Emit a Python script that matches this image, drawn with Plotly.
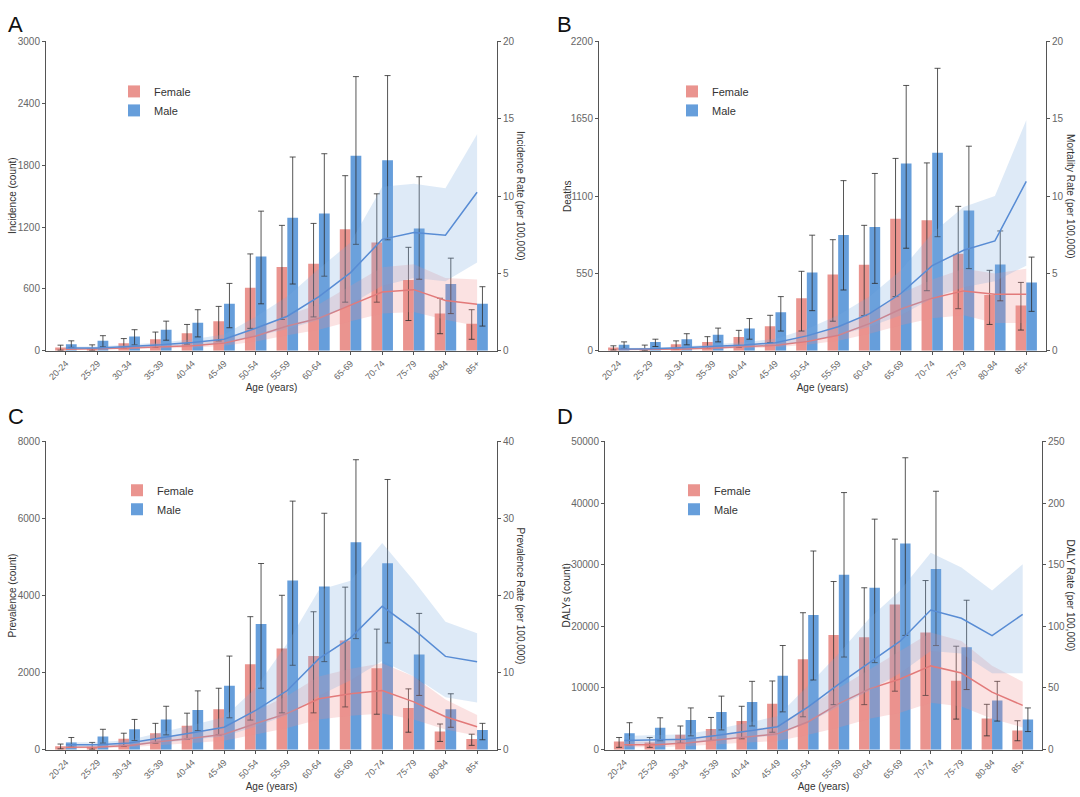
import plotly.graph_objects as go
from plotly.subplots import make_subplots

# ---------------- data ----------------
age_groups = ["20-24", "25-29", "30-34", "35-39", "40-44", "45-49", "50-54",
              "55-59", "60-64", "65-69", "70-74", "75-79", "80-84", "85+"]

# Panel A: incidence
inc_f = [32, 22, 73, 111, 169, 287, 611, 812, 844, 1178, 1051, 685, 360, 261]
inc_f_lo = [5, 5, 25, 32, 64, 95, 217, 303, 328, 471, 471, 293, 165, 111]
inc_f_hi = [54, 57, 118, 181, 255, 430, 939, 1216, 1235, 1698, 1522, 1003, 509, 398]
inc_m = [64, 96, 137, 204, 271, 455, 914, 1290, 1331, 1892, 1847, 1185, 647, 455]
inc_m_lo = [32, 38, 57, 102, 134, 223, 455, 647, 723, 1032, 1076, 694, 360, 239]
inc_m_hi = [96, 146, 204, 287, 398, 653, 1354, 1879, 1911, 2659, 2669, 1688, 898, 621]
inc_rate_f = [0.10, 0.12, 0.18, 0.25, 0.33, 0.50, 0.95, 1.60, 2.10, 2.95, 3.80, 3.95, 3.25, 3.00]
inc_rate_f_lo = [0.05, 0.06, 0.10, 0.15, 0.20, 0.32, 0.60, 1.00, 1.35, 1.90, 2.40, 2.50, 2.00, 1.60]
inc_rate_f_hi = [0.16, 0.19, 0.27, 0.36, 0.48, 0.72, 1.40, 2.30, 3.00, 4.20, 5.40, 5.60, 4.70, 4.60]
inc_rate_m = [0.17, 0.18, 0.28, 0.38, 0.53, 0.74, 1.45, 2.23, 3.50, 5.05, 7.20, 7.64, 7.47, 10.25]
inc_rate_m_lo = [0.10, 0.11, 0.18, 0.25, 0.36, 0.50, 0.95, 1.40, 2.00, 3.00, 4.20, 4.70, 4.50, 5.70]
inc_rate_m_hi = [0.26, 0.28, 0.40, 0.54, 0.75, 1.05, 2.20, 3.50, 5.30, 7.00, 10.60, 10.80, 10.50, 14.00]

# Panel B: deaths
dth_f = [23, 16, 47, 63, 98, 175, 373, 542, 612, 939, 928, 689, 397, 322]
dth_f_lo = [5, 3, 12, 16, 23, 58, 140, 210, 250, 385, 427, 299, 187, 147]
dth_f_hi = [35, 40, 70, 100, 145, 252, 565, 790, 892, 1368, 1336, 1027, 572, 486]
dth_m = [42, 63, 82, 114, 159, 273, 556, 824, 880, 1331, 1408, 997, 614, 486]
dth_m_lo = [16, 30, 42, 63, 82, 140, 285, 432, 479, 729, 811, 584, 355, 280]
dth_m_hi = [63, 82, 121, 161, 229, 385, 822, 1210, 1261, 1887, 2009, 1455, 852, 666]
mort_rate_f = [0.08, 0.09, 0.12, 0.17, 0.25, 0.35, 0.60, 1.00, 1.75, 2.70, 3.40, 3.87, 3.65, 3.65]
mort_rate_f_lo = [0.04, 0.05, 0.07, 0.10, 0.15, 0.22, 0.38, 0.65, 1.10, 1.65, 2.10, 2.30, 1.80, 1.80]
mort_rate_f_hi = [0.13, 0.14, 0.19, 0.26, 0.37, 0.52, 0.90, 1.50, 2.40, 3.70, 4.60, 5.30, 5.00, 5.30]
mort_rate_m = [0.12, 0.13, 0.19, 0.27, 0.37, 0.52, 0.96, 1.55, 2.40, 3.70, 5.50, 6.50, 7.10, 10.95]
mort_rate_m_lo = [0.07, 0.08, 0.12, 0.17, 0.24, 0.34, 0.62, 1.00, 1.55, 2.30, 3.40, 4.10, 4.50, 5.50]
mort_rate_m_hi = [0.18, 0.20, 0.28, 0.40, 0.55, 0.78, 1.40, 2.30, 3.50, 5.20, 7.60, 9.30, 10.00, 14.90]

# Panel C: prevalence
prev_f = [85, 77, 281, 426, 622, 1048, 2215, 2624, 2428, 2829, 2113, 1082, 469, 273]
prev_f_lo = [20, 10, 85, 170, 273, 383, 767, 954, 954, 1108, 920, 452, 213, 111]
prev_f_hi = [145, 187, 426, 682, 946, 1593, 3450, 4005, 3578, 4217, 3127, 1577, 665, 401]
prev_m = [187, 341, 528, 784, 1031, 1661, 3263, 4387, 4234, 5384, 4839, 2471, 1048, 511]
prev_m_lo = [68, 170, 238, 383, 494, 826, 1593, 2189, 2283, 2880, 2769, 1406, 580, 256]
prev_m_hi = [315, 528, 784, 1125, 1525, 2428, 4830, 6449, 6134, 7523, 7010, 3535, 1449, 682]
prev_rate_f = [0.30, 0.35, 0.55, 1.07, 1.49, 2.00, 3.40, 4.70, 6.60, 7.25, 7.67, 6.20, 4.26, 2.98]
prev_rate_f_lo = [0.15, 0.18, 0.30, 0.60, 0.85, 1.15, 2.00, 2.80, 3.90, 4.40, 4.70, 3.90, 2.60, 1.80]
prev_rate_f_hi = [0.50, 0.55, 0.85, 1.60, 2.20, 3.00, 5.00, 7.00, 9.50, 10.50, 11.20, 9.50, 6.50, 4.50]
prev_rate_m = [0.64, 0.64, 0.85, 1.49, 2.20, 2.90, 5.10, 7.67, 11.80, 14.50, 18.60, 15.60, 12.10, 11.40]
prev_rate_m_lo = [0.35, 0.36, 0.50, 0.85, 1.30, 1.70, 3.00, 4.50, 7.00, 9.00, 11.50, 9.50, 6.80, 6.10]
prev_rate_m_hi = [0.95, 0.95, 1.25, 2.20, 3.20, 4.20, 8.00, 13.80, 20.70, 21.90, 26.80, 21.90, 16.60, 15.10]

# Panel D: DALYs
daly_f = [1331, 1172, 2396, 3355, 4633, 7455, 14643, 18584, 18211, 23535, 19010, 11182, 5058, 3089]
daly_f_lo = [373, 373, 1065, 1491, 1757, 2822, 5325, 7295, 7295, 9478, 8786, 4952, 2236, 1438]
daly_f_hi = [1970, 1970, 3834, 5218, 7029, 11134, 22204, 27264, 26251, 34137, 27423, 16773, 7348, 4686]
daly_m = [2662, 3568, 4792, 6123, 7721, 11981, 21832, 28382, 26251, 33440, 29286, 16613, 7987, 4899]
daly_m_lo = [796, 1438, 2236, 3195, 3834, 6123, 11289, 15016, 14110, 18530, 16880, 9744, 4633, 2928]
daly_m_hi = [4366, 5165, 6763, 8679, 11075, 16885, 32215, 41693, 37380, 47337, 41906, 24228, 11075, 6763]
daly_rate_f = [4.0, 4.0, 5.3, 7.7, 10.6, 12.8, 22.6, 37.3, 49.3, 57.3, 67.9, 62.1, 46.6, 35.9]
daly_rate_f_lo = [2.0, 2.0, 2.8, 4.2, 5.8, 7.0, 12.0, 18.0, 25.0, 30.0, 38.0, 35.0, 25.0, 18.0]
daly_rate_f_hi = [6.5, 6.5, 8.5, 12.0, 16.0, 19.5, 35.0, 50.0, 65.0, 80.0, 95.0, 88.0, 68.0, 55.0]
daly_rate_m = [7.4, 8.0, 8.5, 11.4, 15.2, 18.6, 34.6, 53.2, 70.5, 87.9, 113.2, 106.5, 92.4, 109.7]
daly_rate_m_lo = [4.5, 4.8, 5.2, 7.0, 9.5, 11.5, 22.0, 35.0, 48.0, 62.0, 80.0, 78.0, 62.0, 62.0]
daly_rate_m_hi = [11.0, 11.5, 12.5, 16.5, 22.0, 27.0, 52.0, 78.0, 106.5, 129.0, 159.7, 147.8, 129.0, 150.4]

# ---------------- styling ----------------
W, H = 1080, 797
FONT = "Liberation Sans, Arial, sans-serif"
F_BAR = "rgb(234,148,143)"
M_BAR = "rgb(102,158,219)"
F_LINE = "rgb(226,122,122)"
M_LINE = "rgb(88,140,212)"
F_BAND = "rgba(240,140,140,0.25)"
M_BAND = "rgba(125,172,225,0.25)"
ERR = "rgba(45,45,45,0.8)"
AX = "#555555"
TICK_TXT = "#666666"
TITLE_TXT = "#333333"


def px(x):
    return x / W


def py(y):
    return 1 - y / H


fig = make_subplots(rows=2, cols=2,
                    specs=[[{"secondary_y": True}, {"secondary_y": True}],
                           [{"secondary_y": True}, {"secondary_y": True}]])

panels = [
    dict(row=1, col=1, legend="legend",
         f=inc_f, f_lo=inc_f_lo, f_hi=inc_f_hi, m=inc_m, m_lo=inc_m_lo, m_hi=inc_m_hi,
         rf=inc_rate_f, rf_lo=inc_rate_f_lo, rf_hi=inc_rate_f_hi,
         rm=inc_rate_m, rm_lo=inc_rate_m_lo, rm_hi=inc_rate_m_hi,
         y1=[0, 3000], d1=600, y2=[0, 20], d2=5,
         xdom=(46, 497), ydom=(36, 350),
         letter="A", letter_xy=(6, 4),
         ltitle="Incidence (count)", ltitle_x=12,
         rtitle="Incidence Rate (per 100,000)", rtitle_x=521,
         leg_xy=(114, 72)),
    dict(row=1, col=2, legend="legend2",
         f=dth_f, f_lo=dth_f_lo, f_hi=dth_f_hi, m=dth_m, m_lo=dth_m_lo, m_hi=dth_m_hi,
         rf=mort_rate_f, rf_lo=mort_rate_f_lo, rf_hi=mort_rate_f_hi,
         rm=mort_rate_m, rm_lo=mort_rate_m_lo, rm_hi=mort_rate_m_hi,
         y1=[0, 2200], d1=550, y2=[0, 20], d2=5,
         xdom=(599, 1046), ydom=(36, 350),
         letter="B", letter_xy=(555, 4),
         ltitle="Deaths", ltitle_x=567,
         rtitle="Mortality Rate (per 100,000)", rtitle_x=1071,
         leg_xy=(672, 72)),
    dict(row=2, col=1, legend="legend3",
         f=prev_f, f_lo=prev_f_lo, f_hi=prev_f_hi, m=prev_m, m_lo=prev_m_lo, m_hi=prev_m_hi,
         rf=prev_rate_f, rf_lo=prev_rate_f_lo, rf_hi=prev_rate_f_hi,
         rm=prev_rate_m, rm_lo=prev_rate_m_lo, rm_hi=prev_rate_m_hi,
         y1=[0, 8000], d1=2000, y2=[0, 40], d2=10,
         xdom=(46, 497), ydom=(442, 755),
         letter="C", letter_xy=(6, 402),
         ltitle="Prevalence (count)", ltitle_x=12,
         rtitle="Prevalence Rate (per 100,000)", rtitle_x=521,
         leg_xy=(117, 477)),
    dict(row=2, col=2, legend="legend4",
         f=daly_f, f_lo=daly_f_lo, f_hi=daly_f_hi, m=daly_m, m_lo=daly_m_lo, m_hi=daly_m_hi,
         rf=daly_rate_f, rf_lo=daly_rate_f_lo, rf_hi=daly_rate_f_hi,
         rm=daly_rate_m, rm_lo=daly_rate_m_lo, rm_hi=daly_rate_m_hi,
         y1=[0, 50000], d1=10000, y2=[0, 250], d2=50,
         xdom=(605, 1042), ydom=(442, 755),
         letter="D", letter_xy=(555, 402),
         ltitle="DALYs (count)", ltitle_x=566,
         rtitle="DALY Rate (per 100,000)", rtitle_x=1071,
         leg_xy=(674, 477)),
]

annotations = []
legends = {}

for p in panels:
    r, c = p["row"], p["col"]
    # bars with uncertainty intervals
    for name, vals, lo, hi, color in [("Female", p["f"], p["f_lo"], p["f_hi"], F_BAR),
                                      ("Male", p["m"], p["m_lo"], p["m_hi"], M_BAR)]:
        fig.add_trace(go.Bar(
            x=age_groups, y=vals, name=name, marker=dict(color=color, line=dict(width=0)),
            legend=p["legend"],
            error_y=dict(type="data", symmetric=False,
                         array=[h - v for h, v in zip(hi, vals)],
                         arrayminus=[v - l for v, l in zip(vals, lo)],
                         color=ERR, thickness=1, width=3),
        ), row=r, col=c, secondary_y=False)
    # rate bands and lines
    for vals, lo, hi, lcol, bcol in [(p["rf"], p["rf_lo"], p["rf_hi"], F_LINE, F_BAND),
                                     (p["rm"], p["rm_lo"], p["rm_hi"], M_LINE, M_BAND)]:
        fig.add_trace(go.Scatter(
            x=age_groups + age_groups[::-1], y=list(hi) + list(lo)[::-1],
            fill="toself", fillcolor=bcol, line=dict(width=0), mode="lines",
            showlegend=False, hoverinfo="skip",
        ), row=r, col=c, secondary_y=True)
        fig.add_trace(go.Scatter(
            x=age_groups, y=vals, mode="lines", line=dict(color=lcol, width=1.5),
            showlegend=False,
        ), row=r, col=c, secondary_y=True)

    xd = [px(p["xdom"][0]), px(p["xdom"][1])]
    yd = [py(p["ydom"][1]), py(p["ydom"][0])]
    fig.update_xaxes(domain=xd, range=[-0.63, 13.63], type="category",
                     tickangle=-45, tickfont=dict(size=9, color=TICK_TXT),
                     showline=True, linecolor=AX, linewidth=1,
                     ticks="outside", ticklen=3, tickcolor=AX,
                     showgrid=False, zeroline=False,
                     title=dict(text="Age (years)", font=dict(size=10, color=TITLE_TXT), standoff=0),
                     row=r, col=c)
    fig.update_yaxes(domain=yd, range=p["y1"], dtick=p["d1"], tick0=0, tickformat="d",
                     tickfont=dict(size=10, color=TICK_TXT),
                     showline=True, linecolor=AX, linewidth=1,
                     ticks="outside", ticklen=3, tickcolor=AX,
                     showgrid=False, zeroline=False,
                     row=r, col=c, secondary_y=False)
    fig.update_yaxes(domain=yd, range=p["y2"], dtick=p["d2"], tick0=0, tickformat="d",
                     tickfont=dict(size=10, color=TICK_TXT),
                     showline=True, linecolor=AX, linewidth=1,
                     ticks="outside", ticklen=3, tickcolor=AX,
                     showgrid=False, zeroline=False,
                     row=r, col=c, secondary_y=True)

    ymid = (p["ydom"][0] + p["ydom"][1]) / 2
    annotations += [
        dict(text=p["letter"], x=px(p["letter_xy"][0]), y=py(p["letter_xy"][1]),
             xref="paper", yref="paper", xanchor="left", yanchor="top", showarrow=False,
             font=dict(size=22, color="#111111", family=FONT)),
        dict(text=p["ltitle"], x=px(p["ltitle_x"]), y=py(ymid), textangle=-90,
             xref="paper", yref="paper", xanchor="center", yanchor="middle", showarrow=False,
             font=dict(size=10, color=TITLE_TXT, family=FONT)),
        dict(text=p["rtitle"], x=px(p["rtitle_x"]), y=py(ymid), textangle=90,
             xref="paper", yref="paper", xanchor="center", yanchor="middle", showarrow=False,
             font=dict(size=10, color=TITLE_TXT, family=FONT)),
    ]
    legends[p["legend"]] = dict(x=px(p["leg_xy"][0]), y=py(p["leg_xy"][1]),
                                xanchor="left", yanchor="top",
                                bgcolor="rgba(0,0,0,0)", borderwidth=0,
                                font=dict(size=11, color=TITLE_TXT, family=FONT),
                                tracegroupgap=0)

fig.update_layout(
    width=W, height=H,
    margin=dict(l=0, r=0, t=0, b=0),
    paper_bgcolor="white", plot_bgcolor="white",
    font=dict(family=FONT),
    barmode="group", bargap=0.32, bargroupgap=0,
    hovermode=False,
    annotations=annotations,
    **legends,
)

fig.write_html("out.html",
               config={"displayModeBar": False, "staticPlot": True},
               post_script="document.body.style.margin='0';document.body.style.overflow='hidden';")
